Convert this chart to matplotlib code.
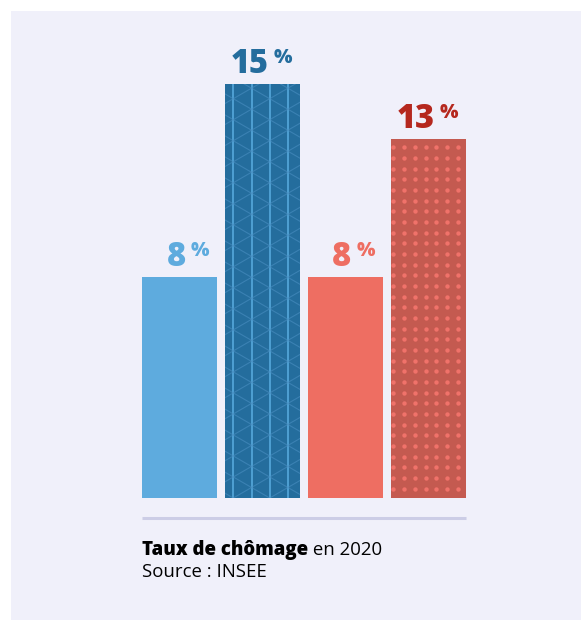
import matplotlib.pyplot as plt
import numpy as np
from matplotlib.patches import Rectangle

# donnees
valeurs = [8, 15, 8, 13]
etiquettes = ['8', '15', '8', '13']
couleurs_barres = ['#5eabde', '#246d9d', '#ee6e62', '#c45a50']
couleurs_textes = ['#5eabde', '#246d9d', '#ee6e62', '#b5281e']
titre_gras = 'Taux de chômage'
titre_suite = ' en 2020'
source = 'Source : INSEE'

police = 'Open Sans'

W, H = 581, 620
fig = plt.figure(figsize=(W / 100, H / 100), dpi=100)
fig.patch.set_facecolor('white')
fig.patches.append(Rectangle((11 / W, 0), 1, 1 - 11 / H, transform=fig.transFigure,
                             facecolor='#f0f0fa', edgecolor='none', zorder=-5))

largeur = 75 / 83
ax = fig.add_axes([142 / W, (H - 498) / H, 324 / W, 468 / H])
ax.set_facecolor('none')
ax.set_xlim(0, 3 + largeur)
ax.set_ylim(0, 468 / 27.6)
ax.axis('off')

x = np.arange(len(valeurs))
barres = ax.bar(x, valeurs, width=largeur, align='edge', color=couleurs_barres, zorder=2)

# echelle pixels par unite
p0 = ax.transData.transform((0, 0))
p1 = ax.transData.transform((1, 1))
sx, sy = p1 - p0

# motif triangulaire sur la 2e barre
b = barres[1]
x0, w, hb = b.get_x(), b.get_width(), b.get_height()
h = 2 * 18.2 / np.sqrt(3)
t = np.tan(np.radians(30))
for k in range(5):
    xv = x0 + (8.3 + 18.2 * k) / sx
    if xv < x0 + w:
        ax.plot([xv, xv], [0, hb], color='#5aaee2', lw=1.1, zorder=3,
                solid_capstyle='butt')
xs_px = np.array([-10, 90])
for j in range(-8, 30):
    for sgn in (1, -1):
        ys_px = sgn * t * (xs_px - 8.3) + j * h
        l, = ax.plot(x0 + xs_px / sx, ys_px / sy, color='#4a8fc2', lw=0.8,
                     alpha=0.6, zorder=3)
        l.set_clip_path(b)

# points sur la 4e barre
b = barres[3]
x0, w, hb = b.get_x(), b.get_width(), b.get_height()
cols = np.arange(2.5, 75, 10.67)
lignes = np.arange(8, hb * sy, 10.67)
gx, gy = np.meshgrid(cols, lignes)
pts = ax.scatter(x0 + gx.ravel() / sx, hb - gy.ravel() / sy, s=10, color='#f0726a',
                 linewidths=0, zorder=3)
pts.set_clip_path(b)

# etiquettes
for i, (v, lab) in enumerate(zip(valeurs, etiquettes)):
    xc = x[i] + largeur / 2
    tn = ax.annotate(lab, xy=(xc, v), xytext=(6, 11), textcoords='offset pixels',
                     ha='right', va='baseline', fontsize=23.5, family=police,
                     weight='heavy', color=couleurs_textes[i], annotation_clip=False)
    ax.annotate('%', xy=(1, 1), xycoords=tn, xytext=(5, -1), textcoords='offset pixels',
                ha='left', va='top', fontsize=14, family=police, weight='heavy',
                color=couleurs_textes[i])

# ligne de base
ax.plot([0, 3 + largeur], [-20 / sy, -20 / sy], color='#cccde6', lw=2.2,
        solid_capstyle='butt', clip_on=False)

# legende
y_titre = 1 - 555 / H
t1 = fig.text(142 / W, y_titre, titre_gras, fontsize=13.4, family=police,
              weight='heavy', va='baseline', color='black')
bb = t1.get_window_extent(renderer=fig.canvas.get_renderer())
fig.text(bb.x1 / W, y_titre, titre_suite, fontsize=13.4, family=police,
         va='baseline', color='black')
fig.text(142 / W, 1 - 577 / H, source, fontsize=13.4, family=police,
         va='baseline', color='black')

fig.savefig('out.png', dpi=100, facecolor=fig.get_facecolor())
